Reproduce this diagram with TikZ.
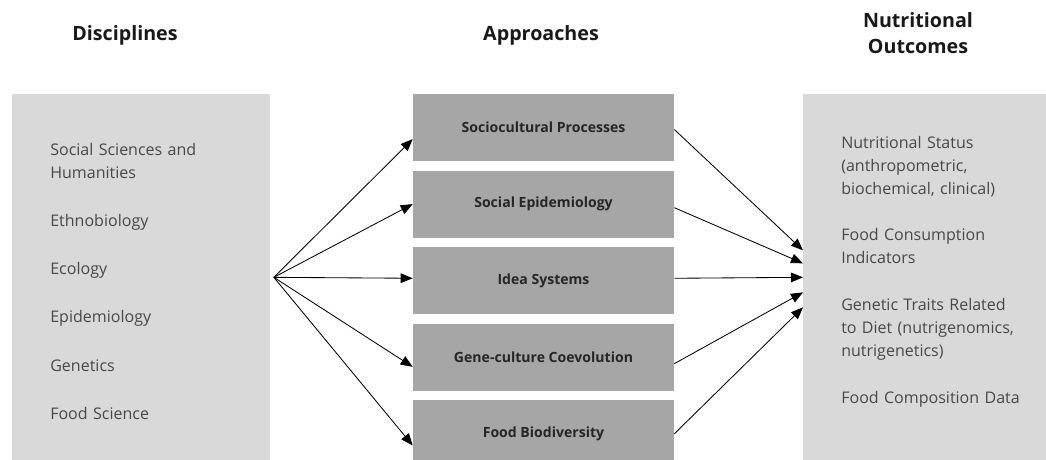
\documentclass[tikz,border=0pt]{standalone}
\usepackage{fontspec}
\setmainfont{Open Sans}
\usetikzlibrary{shapes,arrows.meta,positioning}
\definecolor{sidegray}{RGB}{217,217,217}
\definecolor{appgray}{RGB}{166,166,166}
\definecolor{itemtext}{RGB}{72,72,72}
\tikzstyle{header} = [font=\fontsize{14}{18.4}\selectfont\bfseries, align=center, text=black!90]
\tikzstyle{sidebox} = [rectangle, fill=sidegray, minimum height=9.15cm, inner xsep=0.95cm, inner ysep=0pt, align=left, text=itemtext, font=\fontsize{11.4}{16.3}\selectfont, anchor=north west]
\tikzstyle{approach} = [rectangle, fill=appgray, minimum width=6.525cm, minimum height=1.675cm, inner sep=0pt, font=\fontsize{10}{12}\selectfont\bfseries, text=black!85]
\tikzstyle{arrow} = [line width=0.6pt, -{Triangle[length=0.3cm, width=0.24cm]}]

\begin{document}
\begin{tikzpicture}[x=0.025cm, y=-0.025cm, node distance=0.225cm]
\useasboundingbox (0,0) rectangle (1046,460);
\clip (0,0) rectangle (1046,460);

\node (hdisc) [header] at (125,35) {Disciplines};
\node (happ) [header] at (541,35) {Approaches};
\node (hout) [header] at (918,33) {Nutritional\\Outcomes};

\node (disc) [sidebox, text width=4.55cm, text depth=6.385cm] at (12,94) {Social Sciences and\\Humanities\\[0.63cm]Ethnobiology\\[0.63cm]Ecology\\[0.63cm]Epidemiology\\[0.63cm]Genetics\\[0.63cm]Food Science};
\node (outc) [sidebox, text width=4.8cm, text depth=6.76cm] at (803,94) {Nutritional Status\\(anthropometric,\\biochemical, clinical)\\[0.6cm]Food Consumption\\Indicators\\[0.6cm]Genetic Traits Related\\to Diet (nutrigenomics,\\nutrigenetics)\\[0.6cm]Food Composition Data};

\node (app1) [approach] at (543.5,127.5) {Sociocultural Processes};
\node (app2) [approach, below=of app1] {Social Epidemiology};
\node (app3) [approach, below=of app2] {Idea Systems};
\node (app4) [approach, below=of app3] {Gene-culture Coevolution};
\node (app5) [approach, below=of app4] {Food Biodiversity};

\coordinate (hub) at ([xshift=0.08cm]disc.east);

\draw [arrow] (hub) -- ([yshift=-0.29cm]app1.west);
\draw [arrow] (hub) -- (app2.west);
\draw [arrow] (hub) -- ([yshift=0.06cm]app3.west);
\draw [arrow] (hub) -- ([yshift=-0.24cm]app4.west);
\draw [arrow] (hub) -- ([yshift=-0.29cm]app5.west);

\draw [arrow] ([yshift=-0.05cm]app1.east) -- ([yshift=0.675cm]outc.west);
\draw [arrow] ([yshift=-0.09cm]app2.east) -- ([yshift=0.35cm]outc.west);
\draw [arrow] ([yshift=0.06cm]app3.east) -- (outc.west);
\draw [arrow] ([yshift=-0.16cm]app4.east) -- ([yshift=-0.375cm]outc.west);
\draw [arrow] (app5.east) -- ([yshift=-0.75cm]outc.west);

\end{tikzpicture}
\end{document}
